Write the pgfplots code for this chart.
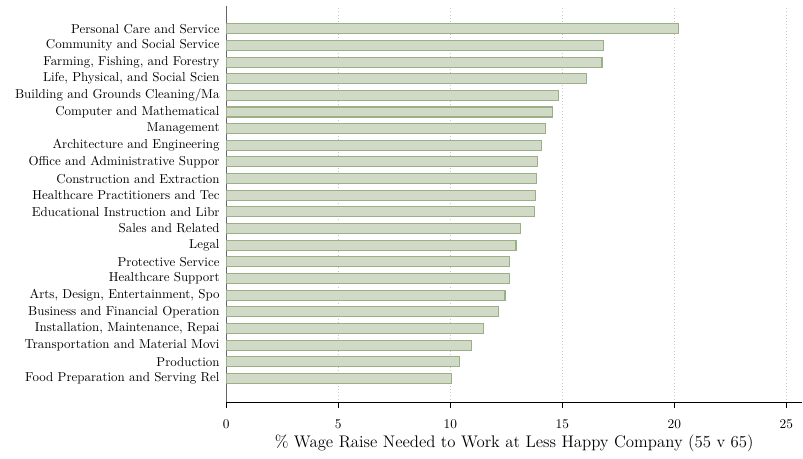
\documentclass[border=0pt]{standalone}
\usepackage{pgfplots}
\pgfplotsset{compat=1.18}
\definecolor{barfill}{RGB}{208,218,198}
\definecolor{baredge}{RGB}{155,176,135}
\definecolor{gridc}{RGB}{200,200,200}
\begin{document}
\begin{tikzpicture}
\begin{axis}[
  scale only axis,
  width=431.8pt, height=297.2pt,
  xmin=0, xmax=25.7,
  ymin=-0.44, ymax=23.37,
  axis x line=bottom, axis y line=left,
  x axis line style={-, black, line width=1pt},
  y axis line style={-, gray!80!black, line width=0.6pt},
  xtick={0,5,10,15,20,25},
  xtick align=outside,
  x tick style={black, line width=0.4pt},
  major tick length=4.5pt,
  x tick label style={font=\fontsize{9.7}{11}\selectfont, yshift=-5pt},
  ytick={1,...,22},
  yticklabels={Food Preparation and Serving Rel, Production, Transportation and Material Movi, {Installation, Maintenance, Repai}, Business and Financial Operation, {Arts, Design, Entertainment, Spo}, Healthcare Support, Protective Service, Legal, Sales and Related, Educational Instruction and Libr, Healthcare Practitioners and Tec, Construction and Extraction, Office and Administrative Suppor, Architecture and Engineering, Management, Computer and Mathematical, Building and Grounds Cleaning/Ma, {Life, Physical, and Social Scien}, {Farming, Fishing, and Forestry}, Community and Social Service, Personal Care and Service},
  y tick style={draw=none},
  y tick label style={font=\fontsize{9.7}{11}\selectfont, xshift=3pt},
  xmajorgrids,
  grid style={gridc, dotted, line width=0.6pt},
  xlabel={\% Wage Raise Needed to Work at Less Happy Company (55 v 65)},
  xlabel style={font=\fontsize{12.6}{15}\selectfont, yshift=2pt},
  xbar, bar width=0.6,
]
\addplot[fill=barfill, draw=baredge, line width=0.8pt] table[x=v, y=i] {
i v
22 20.20
21 16.82
20 16.77
19 16.06
18 14.82
17 14.56
16 14.23
15 14.05
14 13.90
13 13.83
12 13.82
11 13.74
10 13.15
9 12.93
8 12.66
7 12.65
6 12.44
5 12.16
4 11.49
3 10.95
2 10.42
1 10.04
};
\end{axis}
\path (-169.7pt,-41.8pt) rectangle (432.5pt,301.7pt);
\end{tikzpicture}
\end{document}
